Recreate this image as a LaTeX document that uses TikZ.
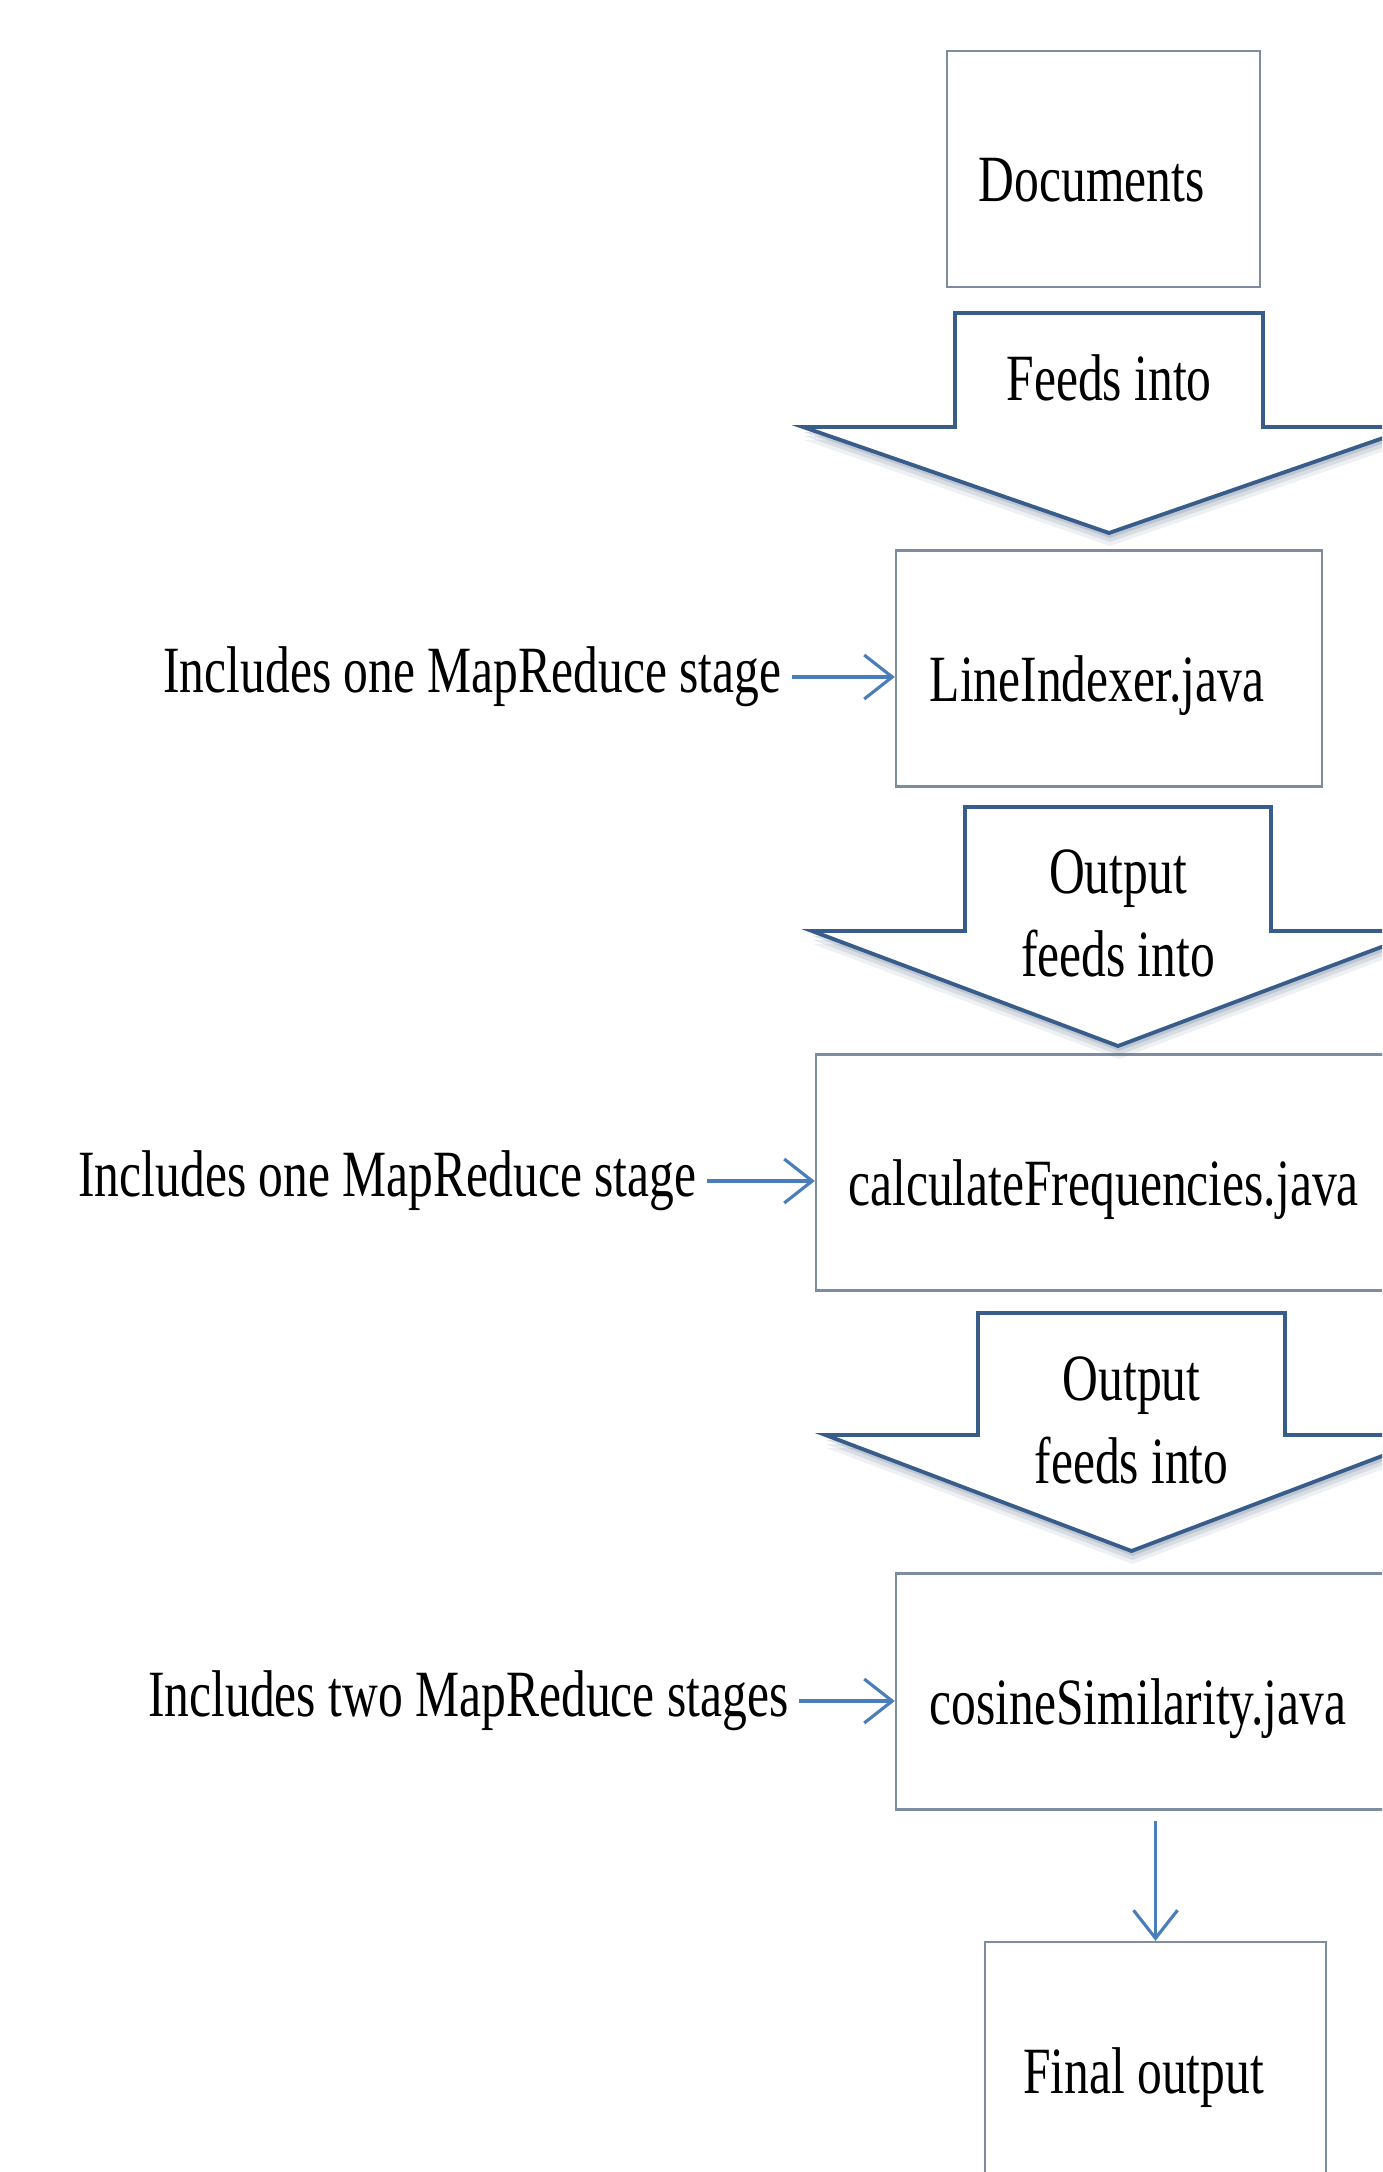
\documentclass[tikz,border=0pt]{standalone}
\usepackage{fontspec}
\setmainfont[FakeStretch=0.75]{Liberation Serif}
\definecolor{flowblue}{RGB}{56, 93, 138}
\definecolor{linkblue}{RGB}{74, 126, 187}
\definecolor{boxgray}{RGB}{125, 140, 160}
\usetikzlibrary{arrows.meta, positioning, shadows}

\begin{document}
\begin{tikzpicture}[
  every node/.style={font=\fontsize{18.8pt}{23.6pt}\selectfont},
  bx/.style={draw=boxgray, line width=0.7pt, minimum width=#1, minimum height=2.36cm,
    text height=0.76cm, text depth=0.1cm, inner sep=0pt, execute at end node=\hspace*{0.24cm}},
  fd/.style={draw=flowblue, line width=1.1pt, fill=white, line join=miter,
    drop shadow={shadow xshift=0.01cm, shadow yshift=-0.13cm, opacity=0.10, fill=flowblue!60!gray},
    drop shadow={shadow xshift=0.01cm, shadow yshift=-0.09cm, opacity=0.14, fill=flowblue!60!gray},
    drop shadow={shadow xshift=0.01cm, shadow yshift=-0.05cm, opacity=0.20, fill=flowblue!60!gray}},
  ln/.style={draw=linkblue, line width=0.9pt, -{Straight Barb[length=0.28cm, width=0.44cm]}},
]
  \useasboundingbox (0,0) rectangle (13.82,-21.72);
  \clip (0,0) rectangle (13.82,-21.72);
  % Boxes
  \node[bx=3.13cm] (docs)  at (11.035,-1.69)  {Documents};
  \node[bx=4.26cm] (line)  at (11.09,-6.685)  {LineIndexer.java};
  \node[bx=5.99cm] (freq)  at (11.155,-11.725) {calculateFrequencies.java};
  \node[bx=5.08cm] (cos)   at (11.50,-16.915) {cosineSimilarity.java};
  \node[bx=3.41cm] (final) at (11.555,-20.6)  {Final output};
  % Block arrows
  \draw[fd] (9.55,-3.13) -- (12.63,-3.13) -- (12.63,-4.27) -- (14.15,-4.27)
    -- (11.09,-5.33) -- (8.03,-4.27) -- (9.55,-4.27) -- cycle;
  \node (feed1) at (11.09,-3.78) {Feeds into};
  \draw[fd] (9.65,-8.07) -- (12.71,-8.07) -- (12.71,-9.31) -- (14.24,-9.31)
    -- (11.18,-10.46) -- (8.12,-9.31) -- (9.65,-9.31) -- cycle;
  \node[align=center] (feed2) at (11.18,-9.13) {Output\\feeds into};
  \draw[fd] (9.78,-13.13) -- (12.85,-13.13) -- (12.85,-14.35) -- (14.375,-14.35)
    -- (11.315,-15.51) -- (8.255,-14.35) -- (9.78,-14.35) -- cycle;
  \node[align=center] (feed3) at (11.315,-14.2) {Output\\feeds into};
  % Side labels
  \node[anchor=east, inner xsep=0.1cm] (lbl1) at (7.92,-6.77)  {Includes one MapReduce stage};
  \node[anchor=east, inner xsep=0.1cm] (lbl2) at (7.07,-11.81) {Includes one MapReduce stage};
  \node[anchor=east, inner xsep=0.1cm] (lbl3) at (7.99,-17.01) {Includes two MapReduce stages};
  % Connectors
  \draw[ln] (lbl1.east) -- (lbl1.east -| line.west);
  \draw[ln] (lbl2.east) -- (lbl2.east -| freq.west);
  \draw[ln] (lbl3.east) -- (lbl3.east -| cos.west);
  \draw[ln] ([yshift=-0.1cm]final.north |- cos.south) -- (final.north);
\end{tikzpicture}
\end{document}
